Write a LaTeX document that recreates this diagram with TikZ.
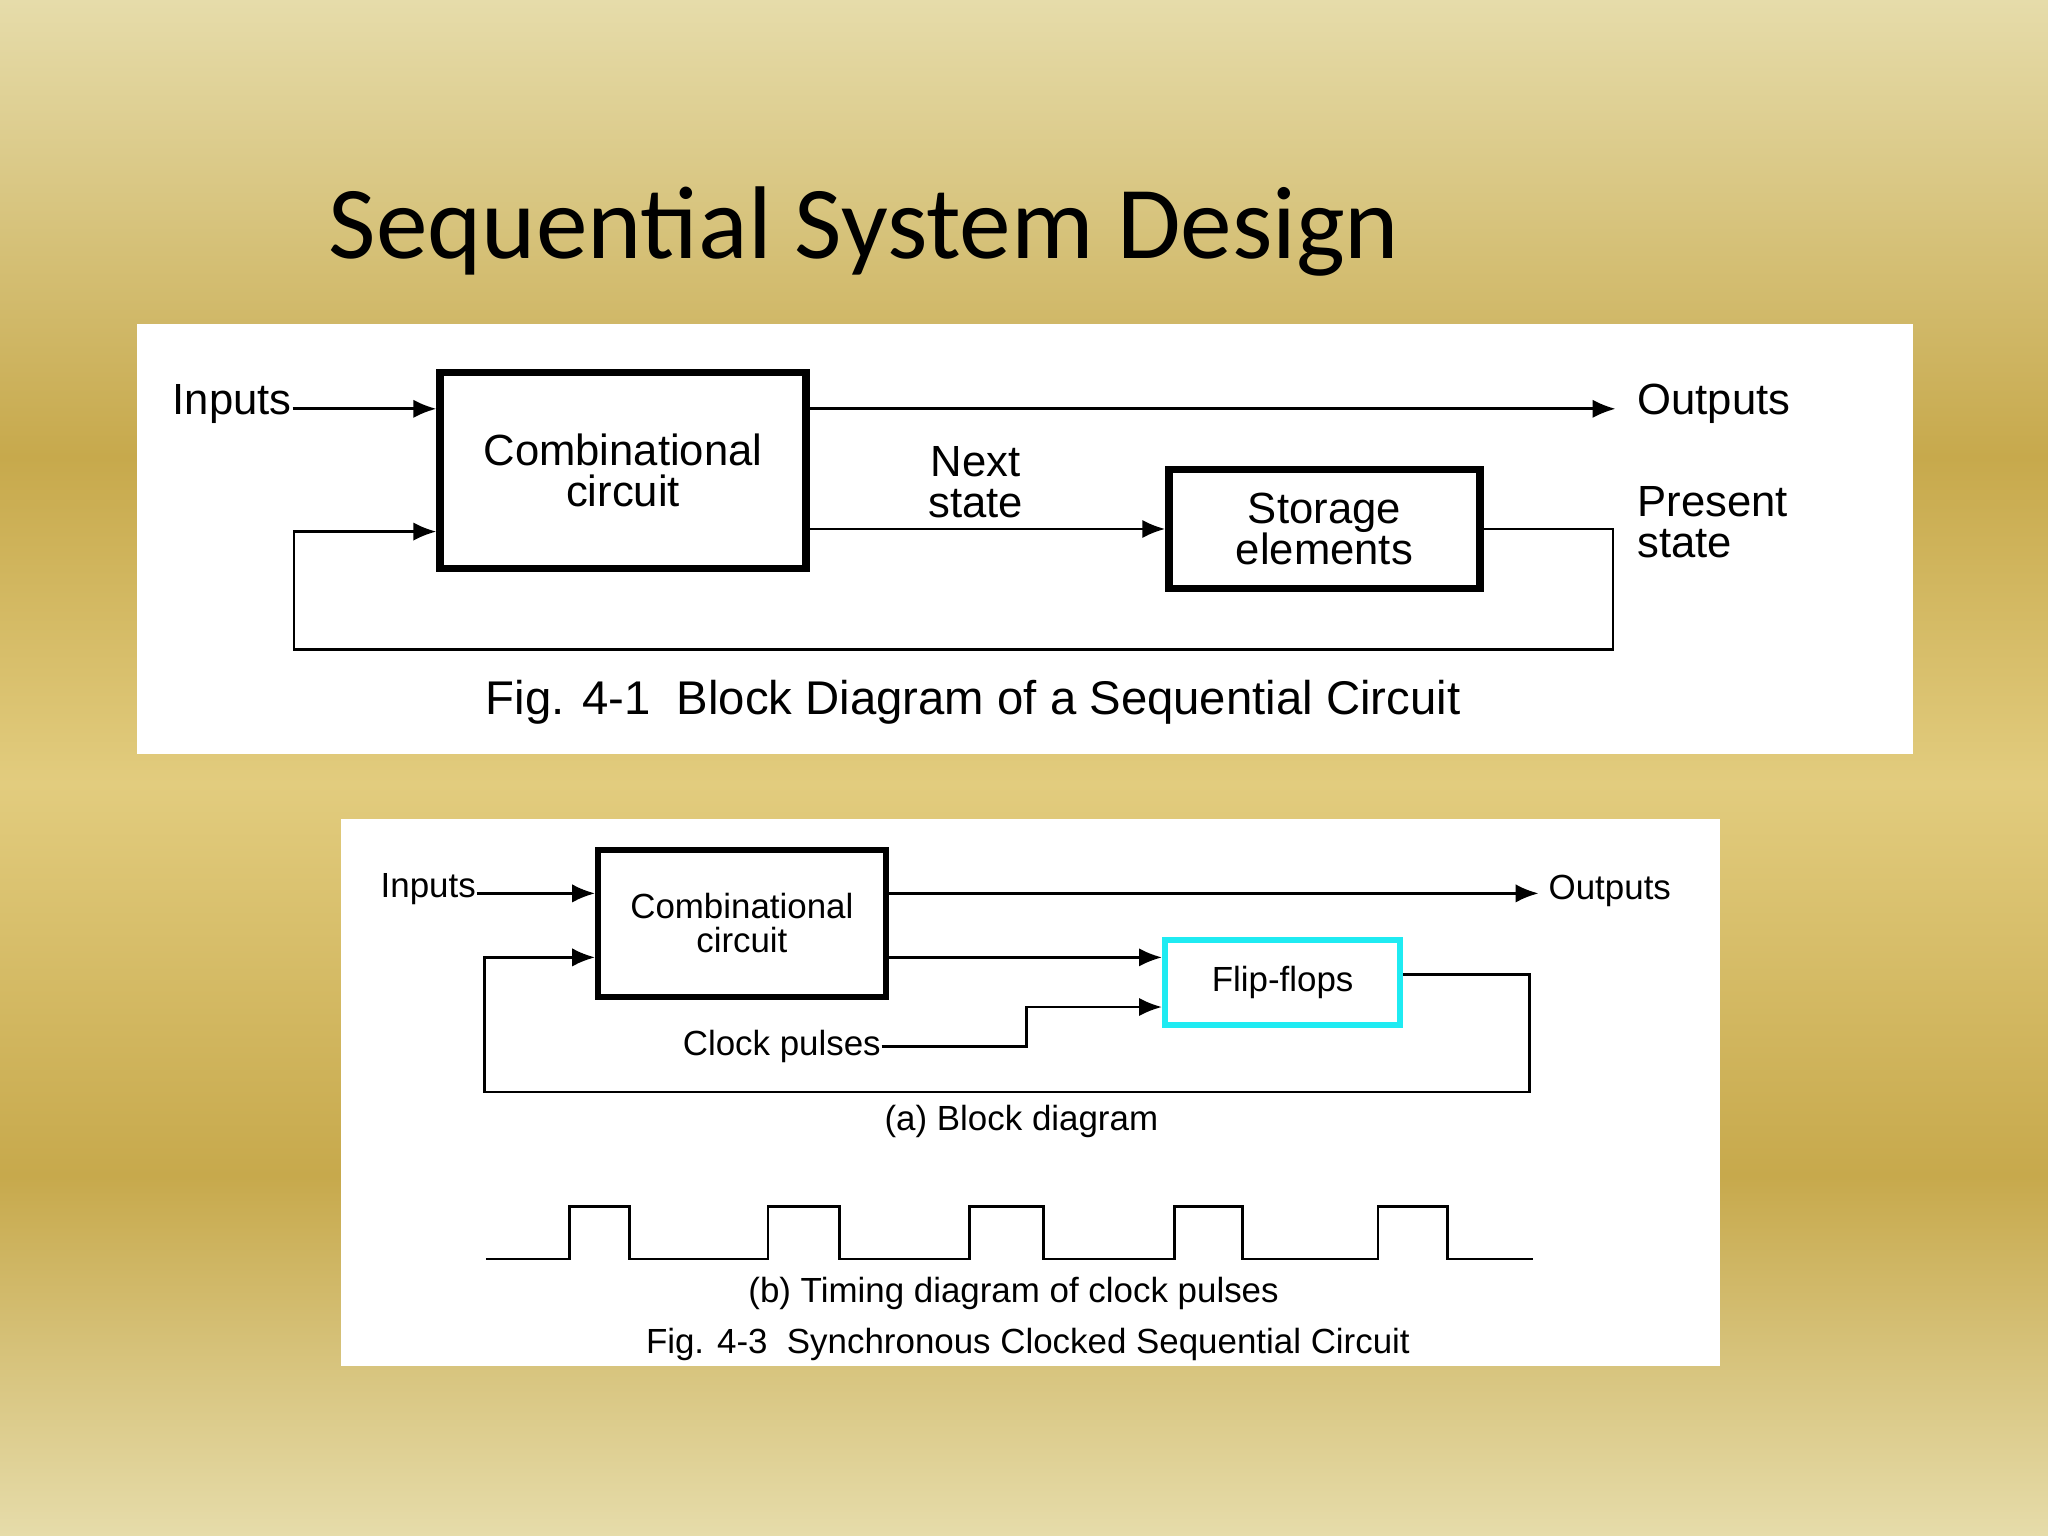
\documentclass[tikz,border=0pt]{standalone}
\usepackage{fontspec}
\setmainfont{Liberation Sans}
\newfontfamily\titlefont{Carlito}
\usetikzlibrary{arrows.meta,positioning}
\definecolor{goldlight}{HTML}{E6DCAA}
\definecolor{golddark}{HTML}{C7A94C}
\definecolor{goldmid}{HTML}{E2CC7E}
\definecolor{ffcyan}{HTML}{1FEBF2}
\tikzset{
	blk/.style={draw, line width=1.6pt, inner sep=0pt},
	wire/.style={line width=0.6pt},
	arr/.style={wire, -{Latex[length=5pt,width=4pt]}},
	lbl/.style={font=\fontsize{9.5}{9}\selectfont, align=center, inner sep=0pt},
	lbls/.style={font=\fontsize{7.6}{7.4}\selectfont, align=center, inner sep=0pt},
}
\begin{document}
\begin{tikzpicture}[x=0.01cm,y=-0.01cm]
	% background
	\useasboundingbox (0,0) rectangle (1568,1176);
	\shade[top color=goldlight, bottom color=golddark] (0,0) rectangle (1568,350);
	\shade[top color=golddark, bottom color=goldmid] (0,350) rectangle (1568,600);
	\shade[top color=goldmid, bottom color=golddark] (0,600) rectangle (1568,900);
	\shade[top color=golddark, bottom color=goldlight] (0,900) rectangle (1568,1176);
	\node[anchor=base west, inner sep=0pt, font=\titlefont\fontsize{22.5}{22.5}\selectfont] (title) at (251,198) {Sequential System Design};

	% Fig. 4-1
	\fill[white] (105,248) rectangle (1465,577);
	\node[blk, minimum width=2.8cm, minimum height=1.5cm] (comb) at (477,360) {};
	\node[lbl] at (comb) {Combinational\\circuit};
	\node[blk, minimum width=2.38cm, minimum height=0.91cm] (stor) at (1014,405) {};
	\node[lbl] at (stor) {Storage\\elements};
	\node[lbl, anchor=east] (in) at (224,309) {Inputs};
	\node[lbl, anchor=west] (out) at (1253,309) {Outputs};
	\node[lbl] (next) at (747,369) {Next\\state};
	\node[lbl, anchor=west, align=left] (pres) at (1253,400) {Present\\state};
	\coordinate (c1) at (1235,405);
	\coordinate (c2) at (1235,497);
	\coordinate (c3) at (225,497);
	\coordinate (c4) at (225,407);
	\draw[arr] (in.east |- 0,313) -- (comb.west |- 0,313);
	\draw[arr] (comb.east |- 0,313) -- (1237,313);
	\draw[arr] (comb.east |- stor) -- (stor.west);
	\draw[arr] (stor.east) -- (c1) -- (c2) -- (c3) -- (c4) -- (comb.west |- c4);
	\node[lbl, font=\fontsize{10.3}{10}\selectfont, anchor=base] (cap1) at (745,547) {Fig. 4-1\ \ Block Diagram of a Sequential Circuit};

	% Fig. 4-3
	\fill[white] (261,627) rectangle (1317,1046);
	\node[blk, line width=1.3pt, minimum width=2.2cm, minimum height=1.12cm] (comb2) at (568,707) {};
	\node[lbls] at (comb2) {Combinational\\circuit};
	\node[draw=ffcyan, line width=1.3pt, inner sep=0pt, minimum width=1.8cm, minimum height=0.65cm] (ff) at (982,752) {};
	\node[lbls] at (ff) {Flip-flops};
	\node[lbls, anchor=east] (in2) at (365,681) {Inputs};
	\node[lbls, anchor=west] (out2) at (1185,682) {Outputs};
	\node[lbls, anchor=east] (clk) at (675,801) {Clock pulses};
	\coordinate (k1) at (786,801);
	\coordinate (k2) at (786,771);
	\coordinate (f1) at (1171,746);
	\coordinate (f2) at (1171,836);
	\coordinate (f3) at (371,836);
	\coordinate (f4) at (371,733);
	\draw[arr] (in2.east |- 0,684) -- (comb2.west |- 0,684);
	\draw[arr] (comb2.east |- 0,684) -- (1178,684);
	\draw[arr] (comb2.east |- 0,733) -- (ff.west |- 0,733);
	\draw[arr] (clk.east) -- (k1) -- (k2) -- (ff.west |- k2);
	\draw[arr] (ff.east |- f1) -- (f1) -- (f2) -- (f3) -- (f4) -- (comb2.west |- f4);
	\node[lbls] (capa) at (782,859) {(a) Block diagram};
	% clock pulses
	\draw[wire] (372,964) -- (436,964) -- (436,924) -- (482,924) -- (482,964)
		-- (588,964) -- (588,924) -- (643,924) -- (643,964)
		-- (742,964) -- (742,924) -- (799,924) -- (799,964)
		-- (899,964) -- (899,924) -- (951,924) -- (951,964)
		-- (1055,964) -- (1055,924) -- (1108,924) -- (1108,964) -- (1174,964);
	\node[lbls] (capb) at (776,990) {(b) Timing diagram of clock pulses};
	\node[lbls] (cap3) at (787,1029) {Fig. 4-3\ \ Synchronous Clocked Sequential Circuit};
\end{tikzpicture}
\end{document}
